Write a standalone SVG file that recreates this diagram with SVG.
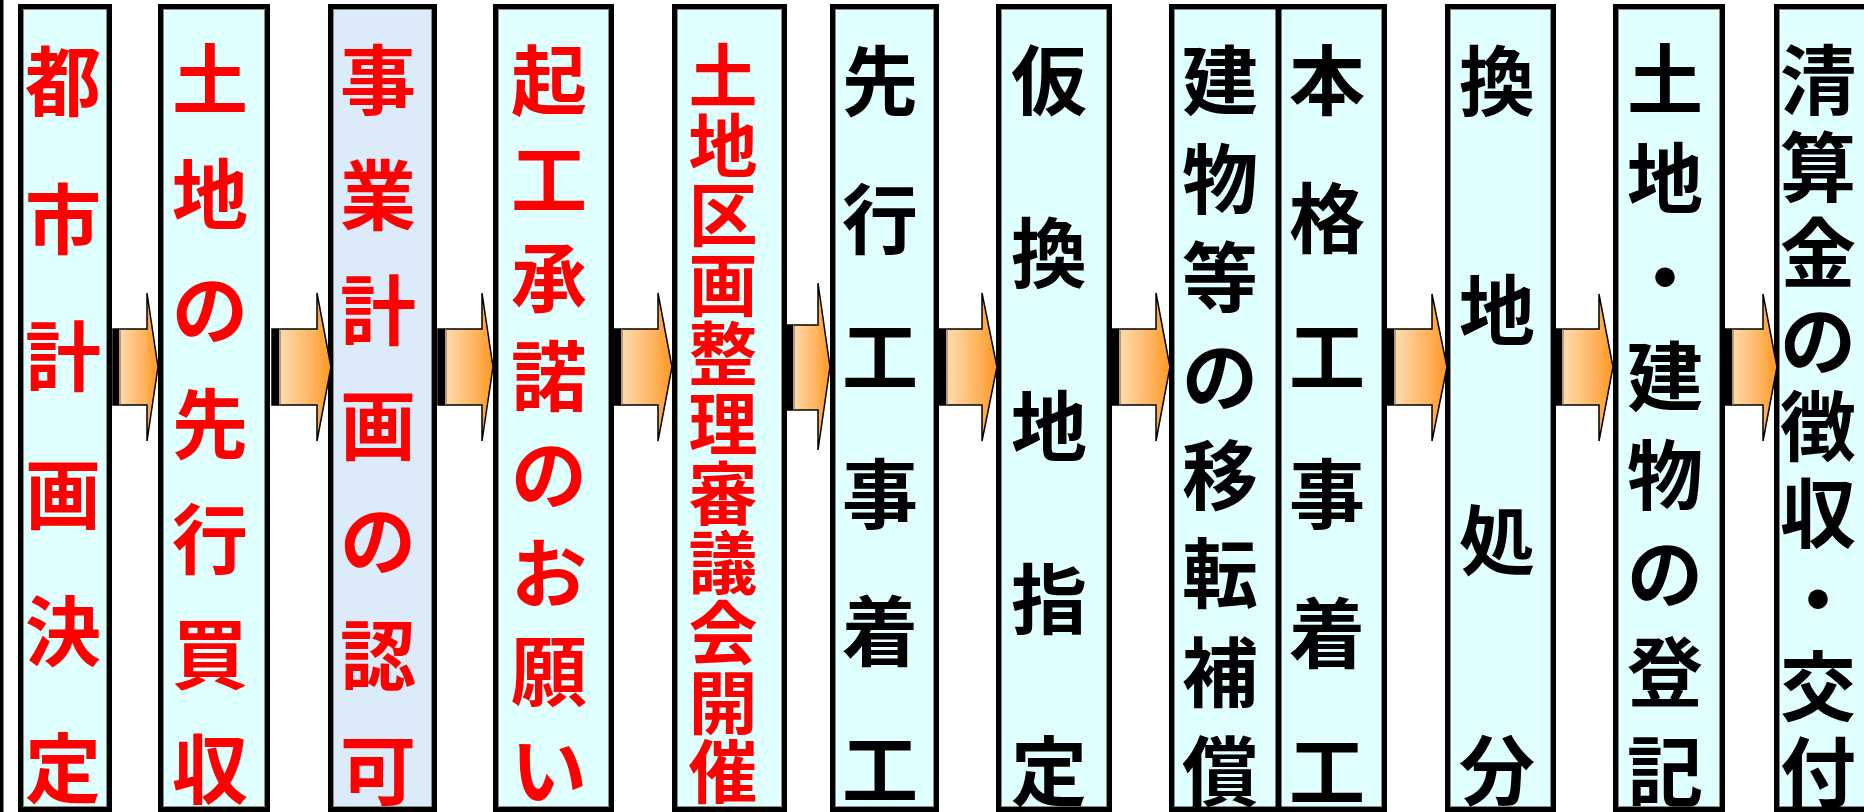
<svg xmlns="http://www.w3.org/2000/svg" width="1864" height="812" viewBox="0 0 1864 812">
<defs>
<linearGradient id="ag" x1="0" y1="0" x2="1" y2="0">
<stop offset="0" stop-color="#FFE6C4"/>
<stop offset="0.75" stop-color="#FFAE52"/>
<stop offset="1" stop-color="#FF9620"/>
</linearGradient>
<style>
.box{fill:#E0FFFF;stroke:#000;stroke-width:5}
.box.blue{fill:#DCEBFA}
.inner{fill:none;stroke:#8a8a8a;stroke-width:1}
.t{font-family:"Noto Sans CJK JP","Noto Sans CJK SC",sans-serif;font-weight:700;font-size:76px;text-anchor:middle;dominant-baseline:central}
.red{fill:#FF0000}
.blk{fill:#000}
.arr{fill:url(#ag);stroke:#000;stroke-width:1.5;stroke-linejoin:miter}
.band{fill:#000}
.bl{stroke:#8B6B4B;stroke-width:1.2}
</style>
</defs>
<rect x="0" y="0" width="1864" height="812" fill="#fff"/>
<rect x="0" y="0" width="3.5" height="812" fill="#000"/>

<g id="n1">
<rect class="box" x="20.5" y="6.5" width="89" height="803"/>
<rect class="inner" x="23.5" y="9.5" width="83" height="797"/>
<text class="t red"><tspan x="63" y="77">都</tspan><tspan x="63" y="215">市</tspan><tspan x="63" y="352">計</tspan><tspan x="63" y="490">画</tspan><tspan x="63" y="627">決</tspan><tspan x="63" y="764">定</tspan></text>
</g>

<g id="n2">
<rect class="box" x="160.5" y="6.5" width="107" height="803"/>
<rect class="inner" x="163.5" y="9.5" width="101" height="797"/>
<text class="t red"><tspan x="210" y="75">土</tspan><tspan x="210" y="190">地</tspan><tspan x="210" y="305">の</tspan><tspan x="210" y="420">先</tspan><tspan x="210" y="535">行</tspan><tspan x="210" y="650">買</tspan><tspan x="210" y="765">収</tspan></text>
</g>

<g id="n3">
<rect class="box blue" x="330.5" y="6.5" width="104" height="803"/>
<rect class="inner" x="333.5" y="9.5" width="98" height="797"/>
<text class="t red"><tspan x="378" y="76">事</tspan><tspan x="378" y="191">業</tspan><tspan x="378" y="306">計</tspan><tspan x="378" y="421">画</tspan><tspan x="378" y="536">の</tspan><tspan x="378" y="651">認</tspan><tspan x="378" y="766">可</tspan></text>
</g>

<g id="n4">
<rect class="box" x="495.5" y="6.5" width="116" height="803"/>
<rect class="inner" x="498.5" y="9.5" width="110" height="797"/>
<text class="t red"><tspan x="549" y="76">起</tspan><tspan x="549" y="175">工</tspan><tspan x="549" y="273">承</tspan><tspan x="549" y="372">諾</tspan><tspan x="549" y="470">の</tspan><tspan x="549" y="569">お</tspan><tspan x="549" y="667">願</tspan><tspan x="549" y="766">い</tspan></text>
</g>

<g id="n5">
<rect class="box" x="674.5" y="6.5" width="110" height="803"/>
<rect class="inner" x="677.5" y="9.5" width="104" height="797"/>
<text class="t red" style="font-size:69px"><tspan x="723" y="72">土</tspan><tspan x="723" y="142">地</tspan><tspan x="723" y="211">区</tspan><tspan x="723" y="281">画</tspan><tspan x="723" y="350">整</tspan><tspan x="723" y="420">理</tspan><tspan x="723" y="490">審</tspan><tspan x="723" y="559">議</tspan><tspan x="723" y="629">会</tspan><tspan x="723" y="699">開</tspan><tspan x="723" y="768">催</tspan></text>
</g>

<g id="n6">
<rect class="box" x="832.5" y="6.5" width="104" height="803"/>
<rect class="inner" x="835.5" y="9.5" width="98" height="797"/>
<text class="t blk"><tspan x="880" y="77">先</tspan><tspan x="880" y="215">行</tspan><tspan x="880" y="352">工</tspan><tspan x="880" y="490">事</tspan><tspan x="880" y="627">着</tspan><tspan x="880" y="765">工</tspan></text>
</g>

<g id="n7">
<rect class="box" x="998.5" y="6.5" width="111" height="803"/>
<rect class="inner" x="1001.5" y="9.5" width="105" height="797"/>
<text class="t blk"><tspan x="1049" y="76">仮</tspan><tspan x="1049" y="249">換</tspan><tspan x="1049" y="422">地</tspan><tspan x="1049" y="595">指</tspan><tspan x="1049" y="767">定</tspan></text>
</g>

<g id="n8">
<rect class="box" x="1171.5" y="6.5" width="213" height="803"/>
<rect class="inner" x="1174.5" y="9.5" width="207" height="797"/>
<line x1="1278.5" y1="6.5" x2="1278.5" y2="809.5" stroke="#000" stroke-width="6"/>
<text class="t blk"><tspan x="1220" y="76">建</tspan><tspan x="1220" y="175">物</tspan><tspan x="1220" y="273">等</tspan><tspan x="1220" y="372">の</tspan><tspan x="1220" y="471">移</tspan><tspan x="1220" y="569">転</tspan><tspan x="1220" y="668">補</tspan><tspan x="1220" y="767">償</tspan></text>
<text class="t blk"><tspan x="1327" y="76">本</tspan><tspan x="1327" y="214">格</tspan><tspan x="1327" y="352">工</tspan><tspan x="1327" y="490">事</tspan><tspan x="1327" y="629">着</tspan><tspan x="1327" y="767">工</tspan></text>
</g>

<g id="n9">
<rect class="box" x="1447.5" y="6.5" width="106" height="803"/>
<rect class="inner" x="1450.5" y="9.5" width="100" height="797"/>
<text class="t blk"><tspan x="1497" y="77">換</tspan><tspan x="1497" y="306">地</tspan><tspan x="1497" y="536">処</tspan><tspan x="1497" y="766">分</tspan></text>
</g>

<g id="n10">
<rect class="box" x="1615.5" y="6.5" width="107" height="803"/>
<rect class="inner" x="1618.5" y="9.5" width="101" height="797"/>
<text class="t blk"><tspan x="1665" y="75">土</tspan><tspan x="1665" y="174">地</tspan><tspan x="1665" y="273">・</tspan><tspan x="1665" y="372">建</tspan><tspan x="1665" y="471">物</tspan><tspan x="1665" y="569">の</tspan><tspan x="1665" y="668">登</tspan><tspan x="1665" y="767">記</tspan></text>
</g>

<g id="n11">
<rect class="box" x="1776.5" y="6.5" width="110" height="803"/>
<rect class="inner" x="1779.5" y="9.5" width="104" height="797"/>
<text class="t blk"><tspan x="1818" y="76">清</tspan><tspan x="1818" y="163">算</tspan><tspan x="1818" y="249">金</tspan><tspan x="1818" y="336">の</tspan><tspan x="1818" y="422">徴</tspan><tspan x="1818" y="509">収</tspan><tspan x="1818" y="595">・</tspan><tspan x="1818" y="682">交</tspan><tspan x="1818" y="768">付</tspan></text>
</g>

<g id="connectors">
<polygon class="arr" points="113,329 147,329 147,293 158,367 147,441 147,405 113,405"/>
<rect class="band" x="113" y="329" width="6" height="76"/><line class="bl" x1="120" y1="329" x2="120" y2="405"/>

<polygon class="arr" points="272,329 317,329 317,293 331,367 317,441 317,405 272,405"/>
<rect class="band" x="272" y="329" width="7" height="76"/><line class="bl" x1="280" y1="329" x2="280" y2="405"/>

<polygon class="arr" points="438,329 482,329 482,293 493,367 482,441 482,405 438,405"/>
<rect class="band" x="438" y="329" width="7" height="76"/><line class="bl" x1="446" y1="329" x2="446" y2="405"/>

<polygon class="arr" points="614,329 658,329 658,293 672,367 658,441 658,405 614,405"/>
<rect class="band" x="614" y="329" width="7" height="76"/><line class="bl" x1="622" y1="329" x2="622" y2="405"/>

<polygon class="arr" points="787,325 818,325 818,283 830,367 818,450 818,410 787,410"/>
<rect class="band" x="787" y="325" width="6" height="85"/><line class="bl" x1="794" y1="325" x2="794" y2="410"/>

<polygon class="arr" points="939,329 982,329 982,293 997,367 982,441 982,405 939,405"/>
<rect class="band" x="939" y="329" width="7" height="76"/><line class="bl" x1="947" y1="329" x2="947" y2="405"/>

<polygon class="arr" points="1112,329 1156,329 1156,293 1170,367 1156,441 1156,405 1112,405"/>
<rect class="band" x="1112" y="329" width="7" height="76"/><line class="bl" x1="1120" y1="329" x2="1120" y2="405"/>

<polygon class="arr" points="1387,329 1432,329 1432,294 1447,367 1432,441 1432,405 1387,405"/>
<rect class="band" x="1387" y="329" width="7" height="76"/><line class="bl" x1="1395" y1="329" x2="1395" y2="405"/>

<polygon class="arr" points="1555,329 1599,329 1599,294 1613,367 1599,441 1599,405 1555,405"/>
<rect class="band" x="1555" y="329" width="7" height="76"/><line class="bl" x1="1563" y1="329" x2="1563" y2="405"/>

<polygon class="arr" points="1725,329 1763,329 1763,294 1777,367 1763,441 1763,405 1725,405"/>
<rect class="band" x="1725" y="329" width="7" height="76"/><line class="bl" x1="1733" y1="329" x2="1733" y2="405"/>
</g>
</svg>
